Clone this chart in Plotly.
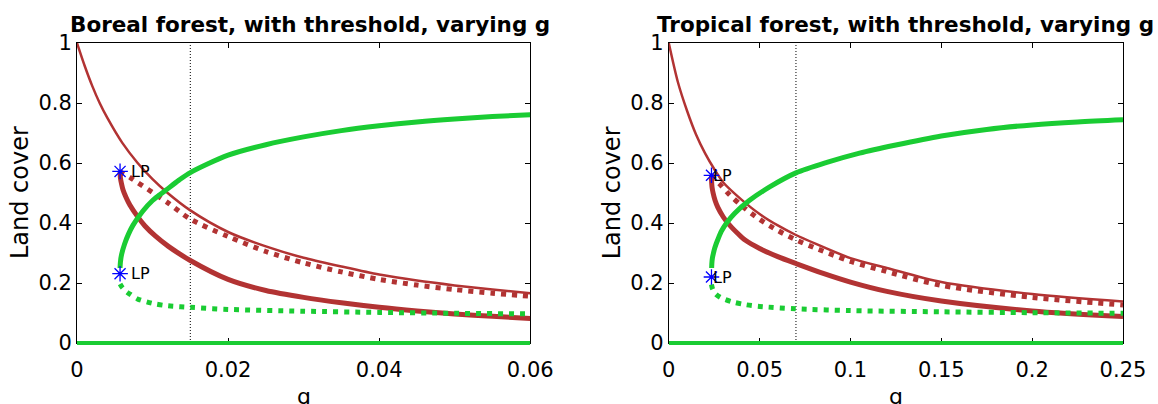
import plotly.graph_objects as go

# ---------------- data: boreal (left) ----------------
b_thin_g = [0, 0.001, 0.002, 0.003, 0.004, 0.006, 0.008, 0.010, 0.012, 0.015, 0.020, 0.025, 0.030, 0.035, 0.040, 0.045, 0.050, 0.055, 0.060]
b_thin_y = [1.0, 0.925, 0.858, 0.80, 0.751, 0.667, 0.601, 0.546, 0.50, 0.442, 0.37, 0.322, 0.284, 0.255, 0.228, 0.208, 0.192, 0.178, 0.166]
b_red_g = [0.0057, 0.00575, 0.0059, 0.0061, 0.0065, 0.0070, 0.0080, 0.0090, 0.0104, 0.0121, 0.015, 0.020, 0.025, 0.030, 0.035, 0.040, 0.045, 0.050, 0.055, 0.060]
b_red_y = [0.572, 0.55, 0.53, 0.51, 0.485, 0.46, 0.422, 0.39, 0.356, 0.322, 0.275, 0.212, 0.175, 0.152, 0.134, 0.119, 0.107, 0.097, 0.089, 0.082]
b_reddot_g = [0.0057, 0.006, 0.007, 0.008, 0.010, 0.012, 0.015, 0.020, 0.025, 0.030, 0.035, 0.040, 0.045, 0.050, 0.055, 0.060]
b_reddot_y = [0.572, 0.566, 0.552, 0.535, 0.502, 0.468, 0.413, 0.355, 0.305, 0.267, 0.237, 0.212, 0.193, 0.178, 0.166, 0.156]
b_green_g = [0.0057, 0.00575, 0.0059, 0.0063, 0.0068, 0.0074, 0.0087, 0.0100, 0.0117, 0.0135, 0.015, 0.020, 0.025, 0.030, 0.035, 0.040, 0.045, 0.050, 0.055, 0.060]
b_green_y = [0.25, 0.27, 0.295, 0.33, 0.362, 0.392, 0.439, 0.475, 0.508, 0.543, 0.568, 0.626, 0.661, 0.687, 0.708, 0.724, 0.737, 0.747, 0.755, 0.761]
b_greendot_g = [0.0057, 0.006, 0.0065, 0.007, 0.008, 0.010, 0.012, 0.015, 0.020, 0.030, 0.040, 0.050, 0.060]
b_greendot_y = [0.197, 0.185, 0.172, 0.163, 0.147, 0.132, 0.124, 0.119, 0.112, 0.106, 0.102, 0.099, 0.097]
b_base_g = [0, 0.06]
b_base_y = [0, 0]
b_lp_g = [0.0057, 0.0057]
b_lp_y = [0.572, 0.231]
b_thresh = 0.015

# ---------------- data: tropical (right) ----------------
t_thin_g = [0, 0.005, 0.01, 0.015, 0.02, 0.025, 0.03, 0.04, 0.05, 0.06, 0.07, 0.08, 0.10, 0.12, 0.15, 0.20, 0.25]
t_thin_y = [1.0, 0.87, 0.775, 0.695, 0.632, 0.58, 0.535, 0.478, 0.43, 0.392, 0.36, 0.333, 0.283, 0.25, 0.203, 0.163, 0.138]
t_red_g = [0.0235, 0.02355, 0.0238, 0.0244, 0.0255, 0.027, 0.030, 0.0325, 0.035, 0.038, 0.042, 0.050, 0.060, 0.070, 0.085, 0.10, 0.12, 0.15, 0.20, 0.25]
t_red_y = [0.559, 0.54, 0.52, 0.5, 0.475, 0.452, 0.42, 0.4, 0.383, 0.365, 0.343, 0.315, 0.288, 0.265, 0.232, 0.203, 0.172, 0.14, 0.107, 0.088]
t_reddot_g = [0.0235, 0.025, 0.028, 0.0325, 0.04, 0.05, 0.06, 0.07, 0.08, 0.10, 0.12, 0.15, 0.20, 0.25]
t_reddot_y = [0.559, 0.548, 0.53, 0.5, 0.458, 0.412, 0.375, 0.344, 0.318, 0.272, 0.238, 0.192, 0.152, 0.127]
t_green_g = [0.0236, 0.0237, 0.024, 0.0246, 0.0253, 0.027, 0.0289, 0.032, 0.0362, 0.0443, 0.056, 0.07, 0.087, 0.105, 0.125, 0.15, 0.175, 0.20, 0.225, 0.25]
t_green_y = [0.25, 0.265, 0.283, 0.3, 0.317, 0.345, 0.372, 0.402, 0.432, 0.475, 0.522, 0.567, 0.602, 0.633, 0.66, 0.69, 0.712, 0.727, 0.737, 0.744]
t_greendot_g = [0.0235, 0.024, 0.025, 0.026, 0.029, 0.035, 0.042, 0.05, 0.07, 0.10, 0.15, 0.20, 0.25]
t_greendot_y = [0.195, 0.182, 0.17, 0.162, 0.15, 0.137, 0.128, 0.122, 0.114, 0.108, 0.104, 0.101, 0.099]
t_base_g = [0, 0.25]
t_base_y = [0, 0]
t_lp_g = [0.0235, 0.0235]
t_lp_y = [0.559, 0.22]
t_thresh = 0.07

# ---------------- ticks / text ----------------
b_xticks = [0, 0.02, 0.04, 0.06]
b_xlabels = ["0", "0.02", "0.04", "0.06"]
t_xticks = [0, 0.05, 0.1, 0.15, 0.2, 0.25]
t_xlabels = ["0", "0.05", "0.1", "0.15", "0.2", "0.25"]
yticks = [0, 0.2, 0.4, 0.6, 0.8, 1]
ylabels = ["0", "0.2", "0.4", "0.6", "0.8", "1"]
titles = ["Boreal forest, with threshold, varying g", "Tropical forest, with threshold, varying g"]

RED = "rgb(178,51,51)"
GREEN = "rgb(26,204,51)"
BLUE = "rgb(0,0,255)"
DOT = "5px,6px"

fig = go.Figure()
shapes = []

def add_panel(xa, ya, thresh, thin, red, reddot, green, greendot, base, lp):
    kw = dict(xaxis=xa, yaxis=ya, showlegend=False, hoverinfo="skip")
    fig.add_trace(go.Scatter(x=[thresh, thresh], y=[0, 1], mode="lines",
                             line=dict(color="black", width=1, dash="1px,2px"), **kw))
    fig.add_trace(go.Scatter(x=thin[0], y=thin[1], mode="lines",
                             line=dict(color=RED, width=2.5, shape="spline", smoothing=0.8), **kw))
    fig.add_trace(go.Scatter(x=reddot[0], y=reddot[1], mode="lines",
                             line=dict(color=RED, width=5, dash=DOT, shape="spline", smoothing=0.8), **kw))
    fig.add_trace(go.Scatter(x=red[0], y=red[1], mode="lines",
                             line=dict(color=RED, width=5, shape="spline", smoothing=0.8), **kw))
    fig.add_trace(go.Scatter(x=greendot[0], y=greendot[1], mode="lines",
                             line=dict(color=GREEN, width=5, dash=DOT, shape="spline", smoothing=0.8), **kw))
    fig.add_trace(go.Scatter(x=green[0], y=green[1], mode="lines",
                             line=dict(color=GREEN, width=5, shape="spline", smoothing=0.8), **kw))
    # baseline (land cover 0) drawn over the bottom axis line
    shapes.append(dict(type="line", xref=xa, yref=ya + " domain", x0=base[0][0], x1=base[0][-1],
                       y0=base[1][0], y1=base[1][-1], line=dict(color=GREEN, width=4), layer="above"))
    fig.add_trace(go.Scatter(x=lp[0], y=lp[1], mode="markers", cliponaxis=False,
                             marker=dict(symbol="asterisk-open", size=13, color=BLUE,
                                         line=dict(color=BLUE, width=1.3)), **kw))

add_panel("x", "y", b_thresh, (b_thin_g, b_thin_y), (b_red_g, b_red_y), (b_reddot_g, b_reddot_y),
          (b_green_g, b_green_y), (b_greendot_g, b_greendot_y), (b_base_g, b_base_y), (b_lp_g, b_lp_y))
add_panel("x2", "y2", t_thresh, (t_thin_g, t_thin_y), (t_red_g, t_red_y), (t_reddot_g, t_reddot_y),
          (t_green_g, t_green_y), (t_greendot_g, t_greendot_y), (t_base_g, t_base_y), (t_lp_g, t_lp_y))

W, H = 1158, 404
L, R, T, B = 77, 24, 43, 61
pw = W - L - R
def px2paper_x(px):
    return (px - L) / pw
def py2paper_y(py):
    return (H - B - py) / (H - T - B)

tickfont = dict(family="DejaVu Sans", size=21, color="black")
axis_common = dict(showline=True, linecolor="black", linewidth=1, mirror="ticks",
                   ticks="inside", ticklen=5, tickcolor="black", tickwidth=1,
                   showgrid=False, zeroline=False, tickfont=tickfont, layer="below traces")

fig.update_layout(
    width=W, height=H, margin=dict(l=L, r=R, t=T, b=B),
    paper_bgcolor="white", plot_bgcolor="white",
    xaxis=dict(domain=[0, px2paper_x(535)], range=[0, 0.06], tickvals=b_xticks, ticktext=b_xlabels,
               anchor="y", ticklabelstandoff=8, **axis_common),
    yaxis=dict(domain=[0, 1], range=[0, 1], tickvals=yticks, ticktext=ylabels, anchor="x", **axis_common),
    xaxis2=dict(domain=[px2paper_x(675), 1], range=[0, 0.25], tickvals=t_xticks, ticktext=t_xlabels,
                anchor="y2", ticklabelstandoff=8, **axis_common),
    yaxis2=dict(domain=[0, 1], range=[0, 1], tickvals=yticks, ticktext=ylabels, anchor="x2", **axis_common),
    shapes=shapes,
)

ann = []
# titles
for cx, txt in [((77 + 535) / 2 + 6, titles[0]), ((675 + 1134) / 2 + 10, titles[1])]:
    ann.append(dict(x=px2paper_x(cx), y=py2paper_y(10), xref="paper", yref="paper",
                    text="<b>" + txt + "</b>", showarrow=False, xanchor="center", yanchor="top",
                    font=dict(family="DejaVu Sans", size=21.5, color="black")))
# y labels
for cx in [19.5, 618]:
    ann.append(dict(x=px2paper_x(cx), y=0.5, xref="paper", yref="paper", text="Land cover",
                    textangle=-90, showarrow=False, xanchor="center", yanchor="middle",
                    font=dict(family="DejaVu Sans", size=24, color="black")))
# x labels
for cx in [(77 + 535) / 2, (675 + 1134) / 2]:
    ann.append(dict(x=px2paper_x(cx), y=py2paper_y(382), xref="paper", yref="paper", text="g",
                    showarrow=False, xanchor="center", yanchor="top",
                    font=dict(family="DejaVu Sans", size=22, color="black")))
# LP labels
for xr, yr, lpg, lpy, sh in [("x", "y", b_lp_g, b_lp_y, 9), ("x2", "y2", t_lp_g, t_lp_y, 0)]:
    for gx, gy in zip(lpg, lpy):
        ann.append(dict(x=gx, y=gy, xref=xr, yref=yr, text="LP", showarrow=False,
                        xanchor="left", yanchor="middle", xshift=sh,
                        font=dict(family="DejaVu Sans", size=16, color="black")))
fig.update_layout(annotations=ann)

fig.write_html("out.html")
